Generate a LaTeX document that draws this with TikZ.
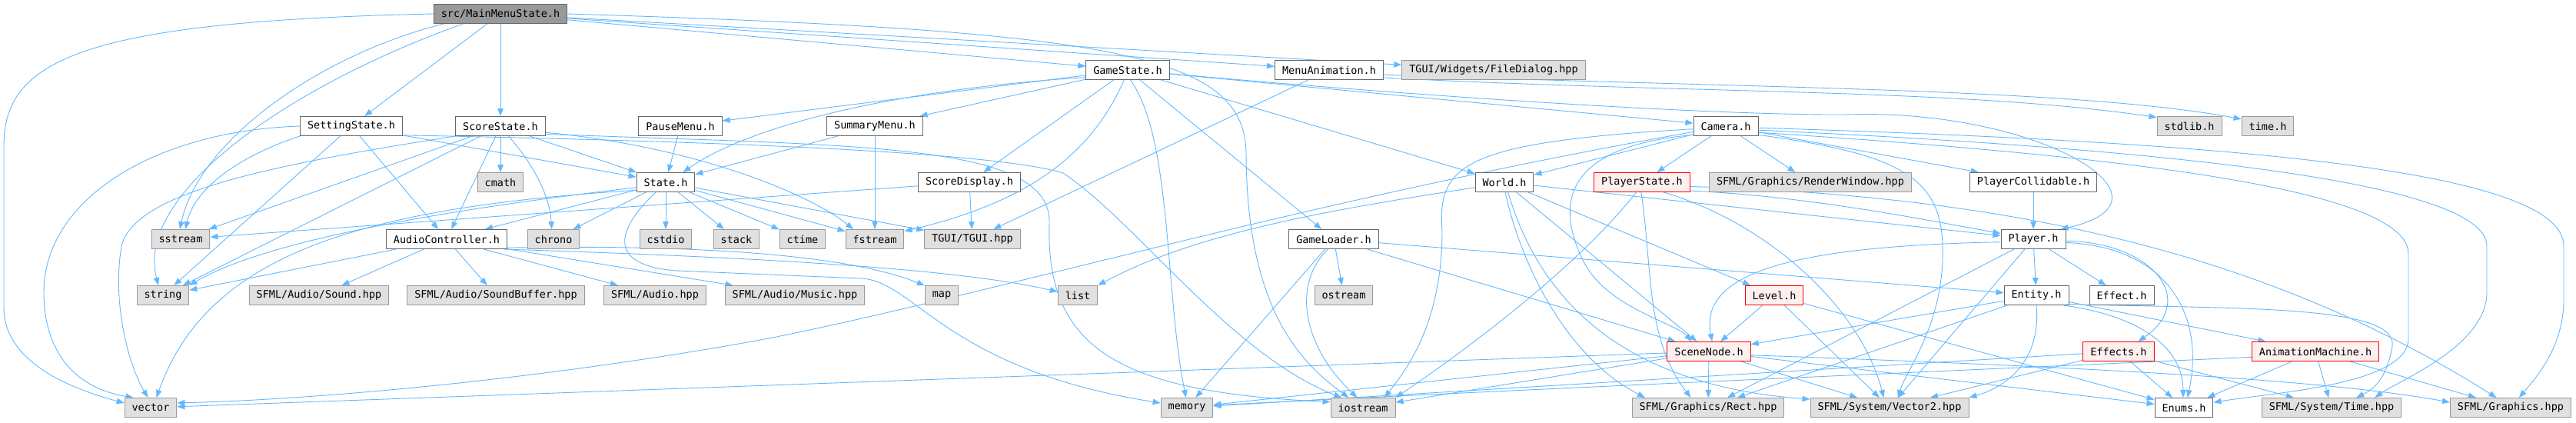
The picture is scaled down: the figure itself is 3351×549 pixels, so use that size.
\documentclass[tikz,border=0pt]{standalone}
\usepackage{fontspec}
\newfontfamily\graphfont{DejaVu Sans Mono}
\usetikzlibrary{arrows.meta}
\definecolor{edgeblue}{HTML}{63B8FF}
\definecolor{boxline}{HTML}{666666}
\definecolor{sysline}{HTML}{999999}
\definecolor{sysfill}{HTML}{E0E0E0}
\definecolor{mainfill}{HTML}{999999}
\definecolor{redfill}{HTML}{FFF0F0}
\pgfdeclarelayer{edges}
\pgfsetlayers{edges,main}

\begin{document}
\begin{tikzpicture}[x=1pt,y=-1pt,
    filebox/.style={rectangle, draw=boxline, fill=white, line width=1pt,
      minimum height=25pt, inner xsep=9.5pt, inner ysep=0pt,
      font={\graphfont\fontsize{13.5pt}{16pt}\selectfont}},
    sysbox/.style={filebox, draw=sysline, fill=sysfill},
    mainbox/.style={filebox, fill=mainfill},
    redbox/.style={filebox, draw=red, fill=redfill},
    dep/.style={draw=edgeblue, line width=0.9pt, -{Triangle[length=10pt,width=7.5pt]}}]
  \useasboundingbox (0,0) rectangle (3351,549);

  % the file itself
  \node[mainbox] (src) at (651,18) {src/MainMenuState.h};
  % row 1
  \node[filebox] (gameState) at (1467,91) {GameState.h};
  \node[filebox] (menuAnim) at (1729,91) {MenuAnimation.h};
  \node[sysbox] (fileDialog) at (1943,91) {TGUI/Widgets/FileDialog.hpp};
  % row 2
  \node[filebox] (settingState) at (457,164) {SettingState.h};
  \node[filebox] (scoreState) at (651,164) {ScoreState.h};
  \node[filebox] (pauseMenu) at (885,164) {PauseMenu.h};
  \node[filebox] (summaryMenu) at (1138,164) {SummaryMenu.h};
  \node[filebox] (camera) at (2245,164) {Camera.h};
  \node[sysbox] (stdlib) at (2848,164) {stdlib.h};
  \node[sysbox] (timeh) at (2950,164) {time.h};
  % row 3
  \node[sysbox] (cmath) at (651,237) {cmath};
  \node[filebox] (state) at (866,237) {State.h};
  \node[filebox] (scoreDisplay) at (1261,237) {ScoreDisplay.h};
  \node[filebox] (world) at (1957,237) {World.h};
  \node[redbox] (playerState) at (2136,237) {PlayerState.h};
  \node[sysbox] (renderWindow) at (2355,237) {SFML/Graphics/RenderWindow.hpp};
  \node[filebox] (playerColl) at (2645,237) {PlayerCollidable.h};
  % row 4
  \node[sysbox] (sstream) at (235,311) {sstream};
  \node[filebox] (audioCtrl) at (581,311) {AudioController.h};
  \node[sysbox] (chrono) at (720,311) {chrono};
  \node[sysbox] (cstdio) at (866,311) {cstdio};
  \node[sysbox] (stack) at (958,311) {stack};
  \node[sysbox] (ctime) at (1044,311) {ctime};
  \node[sysbox] (fstream) at (1138,311) {fstream};
  \node[sysbox] (tgui) at (1265,311) {TGUI/TGUI.hpp};
  \node[filebox] (gameLoader) at (1735,311) {GameLoader.h};
  \node[filebox] (player) at (2645,311) {Player.h};
  % row 5
  \node[sysbox] (string) at (212,384) {string};
  \node[sysbox] (sound) at (415,384) {SFML/Audio/Sound.hpp};
  \node[sysbox] (soundBuffer) at (645,384) {SFML/Audio/SoundBuffer.hpp};
  \node[sysbox] (sfAudio) at (852,384) {SFML/Audio.hpp};
  \node[sysbox] (music) at (1034,384) {SFML/Audio/Music.hpp};
  \node[sysbox] (map) at (1225,384) {map};
  \node[sysbox] (list) at (1402,384) {list};
  \node[sysbox] (ostream) at (1748,384) {ostream};
  \node[redbox] (level) at (2308,384) {Level.h};
  \node[filebox] (entity) at (2649,384) {Entity.h};
  \node[filebox] (effect) at (2760,384) {Effect.h};
  % row 6
  \node[redbox] (sceneNode) at (2223,457) {SceneNode.h};
  \node[redbox] (effects) at (2756,457) {Effects.h};
  \node[redbox] (animMachine) at (3012,457) {AnimationMachine.h};
  % row 7
  \node[sysbox] (vector) at (196,530) {vector};
  \node[sysbox] (memory) at (1544,530) {memory};
  \node[sysbox] (iostream) at (1773,530) {iostream};
  \node[sysbox] (rect) at (2222,530) {SFML/Graphics/Rect.hpp};
  \node[sysbox] (vector2) at (2458,530) {SFML/System/Vector2.hpp};
  \node[filebox] (enums) at (2841,530) {Enums.h};
  \node[sysbox] (sfTime) at (3033,530) {SFML/System/Time.hpp};
  \node[sysbox] (sfGraphics) at (3266,530) {SFML/Graphics.hpp};

  \begin{pgfonlayer}{edges}
    % straight includes
    \foreach \a/\b in {src/settingState, src/scoreState, src/gameState, src/menuAnim, src/fileDialog,
        menuAnim/tgui,
        gameState/pauseMenu, gameState/summaryMenu, gameState/scoreDisplay, gameState/gameLoader,
        gameState/world, gameState/camera,
        settingState/string, settingState/audioCtrl, settingState/state,
        scoreState/sstream, scoreState/string, scoreState/audioCtrl, scoreState/cmath, scoreState/state,
        pauseMenu/state, summaryMenu/state, summaryMenu/fstream,
        scoreDisplay/tgui, scoreDisplay/sstream,
        state/audioCtrl, state/chrono, state/cstdio, state/stack, state/ctime, state/fstream, state/tgui,
        audioCtrl/string, audioCtrl/sound, audioCtrl/soundBuffer, audioCtrl/sfAudio, audioCtrl/music,
        gameLoader/memory, gameLoader/ostream, gameLoader/sceneNode, gameLoader/entity,
        world/sceneNode, world/level, world/player,
        camera/world, camera/playerState, camera/renderWindow, camera/playerColl,
        playerColl/player,
        player/rect, player/vector2, player/entity, player/effect,
        entity/sceneNode, entity/rect, entity/animMachine,
        level/sceneNode, level/vector2, level/enums,
        sceneNode/vector, sceneNode/memory, sceneNode/iostream, sceneNode/rect, sceneNode/vector2, sceneNode/enums,
        effects/memory, effects/vector2, effects/enums, effects/sfTime,
        animMachine/enums, animMachine/sfTime, animMachine/sfGraphics}
      \draw[dep] (\a) -- (\b);

    % curved includes
    \draw[dep] (src.west) .. controls (100,28) and (5,80) .. (5,190) -- (5,400) .. controls (5,470) and (90,505) .. (vector.170);
    \draw[dep] (src.190) .. controls (420,70) and (260,180) .. (sstream.95);
    \draw[dep] (src.195) .. controls (380,110) and (175,250) .. (string.115);
    \draw[dep] (src.east) .. controls (1450,40) and (1620,70) .. (1621,200) .. controls (1622,400) and (1690,470) .. (iostream.145);
    \draw[dep] (menuAnim.-8) .. controls (2200,122) and (2550,115) .. (stdlib.165);
    \draw[dep] (menuAnim.-5) .. controls (2300,115) and (2700,115) .. (timeh.165);

    \draw[dep] (gameState.190) .. controls (1180,115) and (980,160) .. (state.30);
    \draw[dep] (gameState.250) .. controls (1420,200) and (1340,262) .. (fstream.15);
    \draw[dep] (gameState.285) .. controls (1525,180) and (1515,380) .. (memory.95);
    \draw[dep] (gameState.-5) .. controls (1900,130) and (2250,150) .. (2400,149) .. controls (2650,140) and (2850,260) .. (player.20);

    \draw[dep] (settingState.west) .. controls (200,170) and (57,260) .. (57,380) .. controls (57,460) and (100,505) .. (vector.150);
    \draw[dep] (settingState.south west) .. controls (320,200) and (255,240) .. (sstream.65);
    \draw[dep] (settingState.-10) .. controls (1000,185) and (1300,200) .. (1383,225) .. controls (1480,290) and (1600,460) .. (iostream.155);

    \draw[dep] (scoreState.south west) .. controls (350,215) and (175,250) .. (158,320) .. controls (145,400) and (170,480) .. (vector.105);
    \draw[dep] (scoreState.-51) .. controls (695,215) and (715,255) .. (chrono.100);
    \draw[dep] (scoreState.-8) .. controls (900,190) and (1050,250) .. (fstream.155);
    \draw[dep] (scoreState.-10) .. controls (1120,190) and (1368,185) .. (1365,290) .. controls (1360,450) and (1450,510) .. (iostream.170);

    \draw[dep] (state.190) .. controls (600,270) and (350,310) .. (string.north east);
    \draw[dep] (state.195) .. controls (470,270) and (270,330) .. (vector.60);
    \draw[dep] (state.225) .. controls (800,300) and (790,345) .. (880,352) -- (1120,362) .. controls (1190,365) and (1230,480) .. (memory.170);

    \draw[dep] (audioCtrl.-8) .. controls (900,318) and (1100,330) .. (map.150);
    \draw[dep] (audioCtrl.-10) .. controls (1000,335) and (1250,350) .. (list.170);

    \draw[dep] (gameLoader.240) .. controls (1680,370) and (1695,450) .. (iostream.120);

    \draw[dep] (world.190) .. controls (1750,270) and (1560,300) .. (list.north east);
    \draw[dep] (world.275) .. controls (1975,330) and (2030,460) .. (rect.171);
    \draw[dep] (world.290) .. controls (2000,380) and (2100,500) .. (vector2.174);

    \draw[dep] (camera.190) .. controls (1700,260) and (1300,380) .. (1000,440) .. controls (700,495) and (400,520) .. (vector.10);
    \draw[dep] (camera.185) .. controls (1900,185) and (1870,215) .. (1876,300) .. controls (1876,420) and (1830,480) .. (iostream.25);
    \draw[dep] (camera.195) .. controls (2040,190) and (2020,260) .. (2060,340) .. controls (2090,400) and (2180,420) .. (sceneNode.150);
    \draw[dep] (camera.-15) .. controls (2470,200) and (2525,230) .. (2527,320) .. controls (2530,420) and (2480,480) .. (vector2.50);
    \draw[dep] (camera.-3) .. controls (2900,185) and (3335,220) .. (3335,320) -- (3335,390) .. controls (3335,450) and (3300,490) .. (sfGraphics.50);
    \draw[dep] (camera.-7) .. controls (2850,195) and (3235,240) .. (3235,320) -- (3235,380) .. controls (3235,450) and (3120,495) .. (sfTime.13);
    \draw[dep] (camera.-11) .. controls (2800,205) and (3133,250) .. (3133,330) -- (3133,440) .. controls (3133,500) and (2960,510) .. (enums.10);

    \draw[dep] (playerState.240) .. controls (2050,350) and (1900,460) .. (iostream.north east);
    \draw[dep] (playerState.265) .. controls (2150,350) and (2140,440) .. (rect.150);
    \draw[dep] (playerState.-10) .. controls (2350,255) and (2500,285) .. (player.170);
    \draw[dep] (playerState.-25) .. controls (2300,290) and (2420,400) .. (vector2.120);
    \draw[dep] (playerState.-5) .. controls (2620,255) and (2950,330) .. (sfGraphics.145);

    \draw[dep] (player.185) .. controls (2330,320) and (2210,355) .. (sceneNode.72);
    \draw[dep] (player.-3) .. controls (2800,315) and (2860,390) .. (effects.27);
    \draw[dep] (player.-6) .. controls (2810,320) and (2870,400) .. (enums.70);

    \draw[dep] (entity.south) .. controls (2655,460) and (2620,500) .. (vector2.north east);
    \draw[dep] (entity.-15) .. controls (2900,402) and (3120,395) .. (3112,450) .. controls (3105,490) and (3090,505) .. (sfTime.22);
    \draw[dep] (entity.-20) .. controls (2780,410) and (2840,450) .. (enums.95);

    \draw[dep] (animMachine.185) .. controls (2750,473) and (2000,505) .. (memory.5);
    \draw[dep] (sceneNode.-5) .. controls (2800,480) and (3050,498) .. (sfGraphics.175);
  \end{pgfonlayer}
\end{tikzpicture}
\end{document}
